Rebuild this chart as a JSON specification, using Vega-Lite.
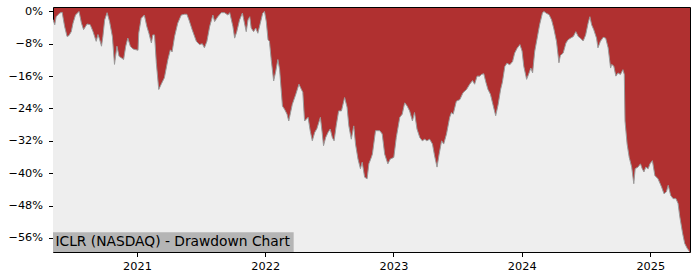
{
  "$schema": "https://vega.github.io/schema/vega-lite/v6.json",
  "width": 637,
  "height": 245,
  "autosize": {"type": "none"},
  "padding": {"left": 53, "top": 7, "right": 10, "bottom": 28},
  "background": "white",
  "config": {
    "view": {"fill": "#b03030", "stroke": "#000000", "strokeWidth": 1},
    "font": "DejaVu Sans",
    "axis": {
      "labelFont": "DejaVu Sans",
      "labelFontSize": 11.3,
      "labelColor": "#000000",
      "tickColor": "#000000",
      "tickSize": 4.5,
      "tickWidth": 1,
      "domain": false,
      "grid": false,
      "title": null,
      "labelOverlap": false,
      "labelBound": false,
      "labelFlush": false
    }
  },
  "data": {
    "values": [
      {"date": "2020-05-07", "dd": -2.0},
      {"date": "2020-05-12", "dd": -3.3},
      {"date": "2020-05-16", "dd": -1.3},
      {"date": "2020-05-26", "dd": -0.4},
      {"date": "2020-06-02", "dd": -0.2},
      {"date": "2020-06-09", "dd": -3.7},
      {"date": "2020-06-16", "dd": -6.2},
      {"date": "2020-06-21", "dd": -6.0},
      {"date": "2020-06-28", "dd": -5.0},
      {"date": "2020-07-03", "dd": -2.9},
      {"date": "2020-07-10", "dd": -0.9},
      {"date": "2020-07-20", "dd": 0},
      {"date": "2020-07-27", "dd": -2.9},
      {"date": "2020-08-02", "dd": -4.5},
      {"date": "2020-08-12", "dd": -3.1},
      {"date": "2020-08-21", "dd": -3.3},
      {"date": "2020-08-29", "dd": -5.0},
      {"date": "2020-09-07", "dd": -7.4},
      {"date": "2020-09-12", "dd": -5.7},
      {"date": "2020-09-17", "dd": -7.0},
      {"date": "2020-09-22", "dd": -8.6},
      {"date": "2020-09-26", "dd": -6.2},
      {"date": "2020-10-01", "dd": -2.1},
      {"date": "2020-10-08", "dd": -0.3},
      {"date": "2020-10-15", "dd": -2.5},
      {"date": "2020-10-23", "dd": -6.2},
      {"date": "2020-10-29", "dd": -13.1},
      {"date": "2020-11-05", "dd": -8.6},
      {"date": "2020-11-11", "dd": -11.1},
      {"date": "2020-11-18", "dd": -11.5},
      {"date": "2020-11-24", "dd": -11.9},
      {"date": "2020-11-30", "dd": -8.6},
      {"date": "2020-12-06", "dd": -6.6},
      {"date": "2020-12-13", "dd": -8.6},
      {"date": "2020-12-21", "dd": -9.3},
      {"date": "2021-01-04", "dd": -9.6},
      {"date": "2021-01-06", "dd": -5.4},
      {"date": "2021-01-13", "dd": -1.7},
      {"date": "2021-01-22", "dd": -0.9},
      {"date": "2021-01-29", "dd": -3.7},
      {"date": "2021-02-04", "dd": -5.4},
      {"date": "2021-02-11", "dd": -7.8},
      {"date": "2021-02-15", "dd": -5.8},
      {"date": "2021-02-20", "dd": -5.8},
      {"date": "2021-02-25", "dd": -12.7},
      {"date": "2021-03-04", "dd": -19.3},
      {"date": "2021-03-11", "dd": -18.0},
      {"date": "2021-03-20", "dd": -16.4},
      {"date": "2021-03-30", "dd": -11.9},
      {"date": "2021-04-06", "dd": -9.5},
      {"date": "2021-04-11", "dd": -10.0},
      {"date": "2021-04-18", "dd": -6.2},
      {"date": "2021-04-27", "dd": -2.9},
      {"date": "2021-05-07", "dd": -0.9},
      {"date": "2021-05-16", "dd": -0.7},
      {"date": "2021-05-23", "dd": -0.7},
      {"date": "2021-05-29", "dd": -2.1},
      {"date": "2021-06-07", "dd": -4.5},
      {"date": "2021-06-19", "dd": -7.4},
      {"date": "2021-06-28", "dd": -8.2},
      {"date": "2021-07-06", "dd": -8.0},
      {"date": "2021-07-12", "dd": -9.0},
      {"date": "2021-07-19", "dd": -7.4},
      {"date": "2021-07-27", "dd": -3.7},
      {"date": "2021-08-05", "dd": -0.9},
      {"date": "2021-08-10", "dd": -2.5},
      {"date": "2021-08-19", "dd": -1.3},
      {"date": "2021-08-29", "dd": -0.3},
      {"date": "2021-09-07", "dd": -0.3},
      {"date": "2021-09-17", "dd": -0.9},
      {"date": "2021-09-22", "dd": -0.3},
      {"date": "2021-10-01", "dd": -3.7},
      {"date": "2021-10-06", "dd": -6.6},
      {"date": "2021-10-12", "dd": -5.0},
      {"date": "2021-10-20", "dd": -2.1},
      {"date": "2021-10-28", "dd": -0.4},
      {"date": "2021-11-03", "dd": -2.9},
      {"date": "2021-11-08", "dd": -5.0},
      {"date": "2021-11-13", "dd": -2.1},
      {"date": "2021-11-18", "dd": -1.3},
      {"date": "2021-11-22", "dd": -4.1},
      {"date": "2021-11-29", "dd": -5.0},
      {"date": "2021-12-05", "dd": -4.1},
      {"date": "2021-12-11", "dd": -5.4},
      {"date": "2021-12-18", "dd": -2.9},
      {"date": "2021-12-25", "dd": -0.4},
      {"date": "2021-12-30", "dd": 0},
      {"date": "2022-01-04", "dd": -2.5},
      {"date": "2022-01-09", "dd": -7.0},
      {"date": "2022-01-13", "dd": -7.4},
      {"date": "2022-01-18", "dd": -11.9},
      {"date": "2022-01-25", "dd": -17.2},
      {"date": "2022-01-31", "dd": -14.8},
      {"date": "2022-02-06", "dd": -11.9},
      {"date": "2022-02-11", "dd": -14.4},
      {"date": "2022-02-19", "dd": -23.4},
      {"date": "2022-02-25", "dd": -24.2},
      {"date": "2022-03-04", "dd": -25.4},
      {"date": "2022-03-09", "dd": -27.1},
      {"date": "2022-03-19", "dd": -23.0},
      {"date": "2022-03-29", "dd": -20.5},
      {"date": "2022-04-07", "dd": -18.0},
      {"date": "2022-04-14", "dd": -19.3},
      {"date": "2022-04-18", "dd": -20.0},
      {"date": "2022-04-23", "dd": -27.1},
      {"date": "2022-05-03", "dd": -26.2},
      {"date": "2022-05-09", "dd": -29.5},
      {"date": "2022-05-15", "dd": -32.0},
      {"date": "2022-05-22", "dd": -29.9},
      {"date": "2022-05-28", "dd": -29.0},
      {"date": "2022-06-07", "dd": -26.2},
      {"date": "2022-06-12", "dd": -29.9},
      {"date": "2022-06-16", "dd": -33.2},
      {"date": "2022-06-22", "dd": -31.2},
      {"date": "2022-06-29", "dd": -29.9},
      {"date": "2022-07-05", "dd": -29.1},
      {"date": "2022-07-11", "dd": -31.2},
      {"date": "2022-07-16", "dd": -32.0},
      {"date": "2022-07-22", "dd": -28.3},
      {"date": "2022-07-29", "dd": -24.6},
      {"date": "2022-08-06", "dd": -24.6},
      {"date": "2022-08-15", "dd": -21.3},
      {"date": "2022-08-22", "dd": -23.7},
      {"date": "2022-08-27", "dd": -28.3},
      {"date": "2022-09-03", "dd": -31.6},
      {"date": "2022-09-10", "dd": -28.3},
      {"date": "2022-09-15", "dd": -32.8},
      {"date": "2022-09-22", "dd": -36.5},
      {"date": "2022-09-29", "dd": -38.9},
      {"date": "2022-10-04", "dd": -37.3},
      {"date": "2022-10-11", "dd": -41.0},
      {"date": "2022-10-18", "dd": -41.4},
      {"date": "2022-10-23", "dd": -37.7},
      {"date": "2022-10-30", "dd": -36.1},
      {"date": "2022-11-02", "dd": -35.3},
      {"date": "2022-11-11", "dd": -29.5},
      {"date": "2022-11-23", "dd": -29.5},
      {"date": "2022-11-30", "dd": -30.3},
      {"date": "2022-12-07", "dd": -35.3},
      {"date": "2022-12-16", "dd": -37.7},
      {"date": "2022-12-23", "dd": -36.5},
      {"date": "2023-01-02", "dd": -36.1},
      {"date": "2023-01-09", "dd": -31.2},
      {"date": "2023-01-19", "dd": -26.2},
      {"date": "2023-01-26", "dd": -25.4},
      {"date": "2023-02-02", "dd": -22.6},
      {"date": "2023-02-09", "dd": -23.4},
      {"date": "2023-02-16", "dd": -24.6},
      {"date": "2023-02-24", "dd": -27.1},
      {"date": "2023-03-02", "dd": -25.0},
      {"date": "2023-03-09", "dd": -29.1},
      {"date": "2023-03-17", "dd": -31.2},
      {"date": "2023-03-24", "dd": -32.0},
      {"date": "2023-03-31", "dd": -31.6},
      {"date": "2023-04-06", "dd": -32.0},
      {"date": "2023-04-14", "dd": -31.6},
      {"date": "2023-04-22", "dd": -32.8},
      {"date": "2023-04-28", "dd": -35.7},
      {"date": "2023-05-05", "dd": -38.5},
      {"date": "2023-05-11", "dd": -35.3},
      {"date": "2023-05-18", "dd": -32.0},
      {"date": "2023-05-24", "dd": -32.8},
      {"date": "2023-06-01", "dd": -30.3},
      {"date": "2023-06-10", "dd": -26.2},
      {"date": "2023-06-15", "dd": -25.0},
      {"date": "2023-06-20", "dd": -25.4},
      {"date": "2023-06-29", "dd": -22.2},
      {"date": "2023-07-09", "dd": -21.8},
      {"date": "2023-07-18", "dd": -20.1},
      {"date": "2023-07-28", "dd": -19.3},
      {"date": "2023-08-06", "dd": -18.0},
      {"date": "2023-08-14", "dd": -17.1},
      {"date": "2023-08-20", "dd": -18.0},
      {"date": "2023-08-27", "dd": -16.0},
      {"date": "2023-09-04", "dd": -16.0},
      {"date": "2023-09-08", "dd": -15.6},
      {"date": "2023-09-15", "dd": -15.4},
      {"date": "2023-09-21", "dd": -17.5},
      {"date": "2023-09-27", "dd": -19.3},
      {"date": "2023-10-04", "dd": -20.5},
      {"date": "2023-10-11", "dd": -23.0},
      {"date": "2023-10-19", "dd": -25.8},
      {"date": "2023-10-26", "dd": -23.0},
      {"date": "2023-11-02", "dd": -19.3},
      {"date": "2023-11-07", "dd": -17.5},
      {"date": "2023-11-14", "dd": -13.6},
      {"date": "2023-11-20", "dd": -12.8},
      {"date": "2023-11-28", "dd": -13.2},
      {"date": "2023-12-06", "dd": -12.4},
      {"date": "2023-12-12", "dd": -10.3},
      {"date": "2023-12-19", "dd": -9.1},
      {"date": "2023-12-27", "dd": -8.2},
      {"date": "2024-01-02", "dd": -9.8},
      {"date": "2024-01-07", "dd": -13.6},
      {"date": "2024-01-15", "dd": -16.8},
      {"date": "2024-01-22", "dd": -15.2},
      {"date": "2024-01-27", "dd": -14.0},
      {"date": "2024-02-01", "dd": -15.2},
      {"date": "2024-02-07", "dd": -9.9},
      {"date": "2024-02-14", "dd": -6.6},
      {"date": "2024-02-21", "dd": -3.3},
      {"date": "2024-02-29", "dd": -0.4},
      {"date": "2024-03-04", "dd": 0},
      {"date": "2024-03-12", "dd": -0.5},
      {"date": "2024-03-19", "dd": -0.8},
      {"date": "2024-03-26", "dd": -2.1},
      {"date": "2024-04-01", "dd": -4.1},
      {"date": "2024-04-09", "dd": -7.4},
      {"date": "2024-04-16", "dd": -12.7},
      {"date": "2024-04-20", "dd": -10.9},
      {"date": "2024-04-28", "dd": -10.3},
      {"date": "2024-05-06", "dd": -7.8},
      {"date": "2024-05-12", "dd": -7.0},
      {"date": "2024-05-19", "dd": -6.6},
      {"date": "2024-05-27", "dd": -6.2},
      {"date": "2024-06-03", "dd": -5.0},
      {"date": "2024-06-10", "dd": -6.2},
      {"date": "2024-06-16", "dd": -6.6},
      {"date": "2024-06-24", "dd": -7.3},
      {"date": "2024-07-01", "dd": -5.8},
      {"date": "2024-07-08", "dd": -2.9},
      {"date": "2024-07-13", "dd": -1.3},
      {"date": "2024-07-18", "dd": -3.3},
      {"date": "2024-07-24", "dd": -4.5},
      {"date": "2024-08-01", "dd": -6.6},
      {"date": "2024-08-05", "dd": -9.0},
      {"date": "2024-08-12", "dd": -7.4},
      {"date": "2024-08-20", "dd": -6.4},
      {"date": "2024-08-27", "dd": -6.6},
      {"date": "2024-09-03", "dd": -9.0},
      {"date": "2024-09-10", "dd": -14.0},
      {"date": "2024-09-13", "dd": -13.1},
      {"date": "2024-09-19", "dd": -13.5},
      {"date": "2024-09-25", "dd": -16.0},
      {"date": "2024-10-01", "dd": -15.2},
      {"date": "2024-10-08", "dd": -15.6},
      {"date": "2024-10-15", "dd": -14.4},
      {"date": "2024-10-19", "dd": -15.6},
      {"date": "2024-10-21", "dd": -27.1},
      {"date": "2024-10-27", "dd": -32.8},
      {"date": "2024-11-02", "dd": -36.1},
      {"date": "2024-11-09", "dd": -38.5},
      {"date": "2024-11-15", "dd": -42.6},
      {"date": "2024-11-19", "dd": -38.9},
      {"date": "2024-11-27", "dd": -38.5},
      {"date": "2024-12-04", "dd": -37.7},
      {"date": "2024-12-09", "dd": -38.9},
      {"date": "2024-12-14", "dd": -39.7},
      {"date": "2024-12-19", "dd": -38.5},
      {"date": "2024-12-26", "dd": -38.9},
      {"date": "2024-12-31", "dd": -37.7},
      {"date": "2025-01-07", "dd": -36.9},
      {"date": "2025-01-14", "dd": -40.6},
      {"date": "2025-01-23", "dd": -41.4},
      {"date": "2025-02-02", "dd": -43.4},
      {"date": "2025-02-09", "dd": -45.1},
      {"date": "2025-02-16", "dd": -44.6},
      {"date": "2025-02-21", "dd": -43.0},
      {"date": "2025-02-28", "dd": -45.5},
      {"date": "2025-03-07", "dd": -46.3},
      {"date": "2025-03-15", "dd": -46.3},
      {"date": "2025-03-21", "dd": -47.5},
      {"date": "2025-03-26", "dd": -50.8},
      {"date": "2025-04-03", "dd": -54.9},
      {"date": "2025-04-09", "dd": -57.4},
      {"date": "2025-04-16", "dd": -58.6},
      {"date": "2025-04-22", "dd": -59.3}
    ]
  },
  "layer": [
    {
      "mark": {"type": "area", "color": "#eeeeee", "clip": true},
      "encoding": {
        "x": {
          "field": "date",
          "type": "temporal",
          "scale": {"domain": [{"year": 2020, "month": 5, "date": 7}, {"year": 2025, "month": 4, "date": 24}]},
          "axis": {
            "values": [{"year": 2021, "month": 1, "date": 1}, {"year": 2022, "month": 1, "date": 1}, {"year": 2023, "month": 1, "date": 1}, {"year": 2024, "month": 1, "date": 1}, {"year": 2025, "month": 1, "date": 1}],
            "format": "%Y",
            "tickCount": 20,
            "labelPadding": 4
          }
        },
        "y": {
          "field": "dd",
          "type": "quantitative",
          "scale": {"domain": [-59.5, 1.1], "nice": false, "zero": false},
          "axis": {
            "values": [0, -8, -16, -24, -32, -40, -48, -56],
            "tickCount": 20,
            "labelExpr": "(datum.value < 0 ? '−' : '') + abs(datum.value) + '%'",
            "labelPadding": 6
          }
        },
        "y2": {"datum": -59.5}
      }
    },
    {
      "mark": {"type": "line", "color": "#9a9a9a", "strokeWidth": 1, "clip": true},
      "encoding": {
        "x": {"field": "date", "type": "temporal"},
        "y": {"field": "dd", "type": "quantitative"}
      }
    },
    {
      "data": {"values": [{"label": "ICLR (NASDAQ) - Drawdown Chart"}]},
      "mark": {"type": "rect", "color": "#b5b5b5"},
      "encoding": {
        "x": {"datum": {"year": 2020, "month": 5, "date": 7}, "type": "temporal"},
        "x2": {"datum": {"year": 2022, "month": 3, "date": 23}},
        "y": {"datum": -59.5, "type": "quantitative"},
        "y2": {"datum": -54.6}
      }
    },
    {
      "data": {"values": [{"label": "ICLR (NASDAQ) - Drawdown Chart"}]},
      "mark": {"type": "text", "align": "left", "baseline": "middle", "fontSize": 13.8, "font": "DejaVu Sans", "color": "#000000"},
      "encoding": {
        "x": {"datum": {"year": 2020, "month": 5, "date": 14}, "type": "temporal"},
        "y": {"datum": -57.0, "type": "quantitative"},
        "text": {"field": "label"}
      }
    }
  ]
}
